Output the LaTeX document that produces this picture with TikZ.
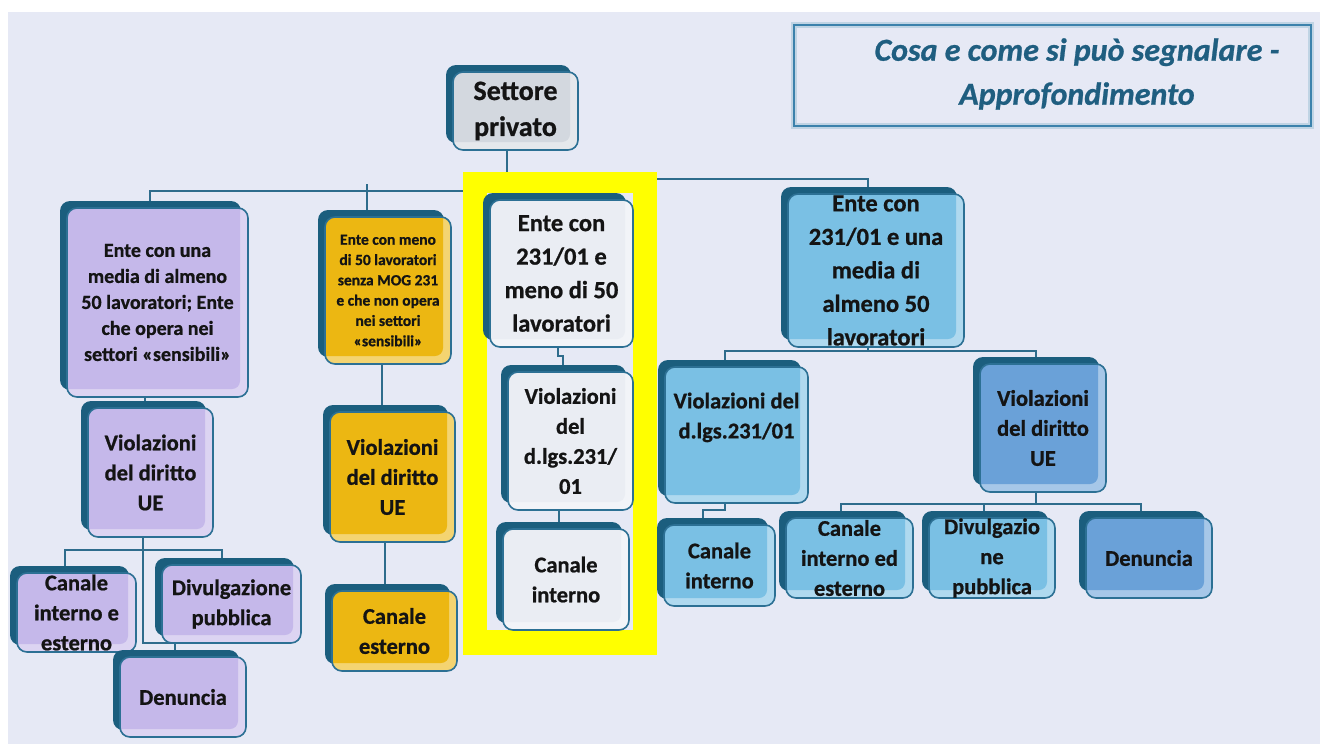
\documentclass[tikz,border=0pt]{standalone}
\usepackage{fontspec}
\setmainfont{Carlito}[BoldFeatures={FakeBold=0.8}, BoldItalicFeatures={FakeBold=0.8}]
\usepackage{tikz}
\usetikzlibrary{positioning,shadows,backgrounds}

\definecolor{pagebg}{RGB}{230,233,245}
\definecolor{shadowcol}{RGB}{27,94,126}
\definecolor{edgecol}{RGB}{44,112,148}
\definecolor{linecol}{RGB}{46,108,140}
\definecolor{lilac}{RGB}{197,184,234}
\definecolor{gold}{RGB}{236,183,18}
\definecolor{pale}{RGB}{234,237,243}
\definecolor{greybox}{RGB}{211,216,223}
\definecolor{sky}{RGB}{122,192,228}
\definecolor{midblue}{RGB}{106,161,216}
\definecolor{titlecol}{RGB}{31,94,128}
\definecolor{framecol}{RGB}{60,130,172}
\definecolor{hilite}{RGB}{255,255,0}
\definecolor{ink}{RGB}{20,20,20}

\begin{document}
\begin{tikzpicture}[x=1pt, y=-1pt,
				boxnode/.style={rectangle, rounded corners=10pt, draw=edgecol, line width=1.6pt, inner sep=0pt, align=center, text=ink,
					copy shadow={shadow xshift=-7pt, shadow yshift=7pt, fill=shadowcol, draw=none}},
				fillbox/.style={boxnode, fill=#1!60!white,
					path picture={\fill[#1, rounded corners=8pt] ([shift={(-6pt,6pt)}]path picture bounding box.north west) rectangle ([shift={(-8pt,8pt)}]path picture bounding box.south east);}},
				fsett/.style={font=\fontsize{28}{36}\selectfont\bfseries},
				fbig/.style={font=\fontsize{24.5}{33.5}\selectfont\bfseries},
				fmid/.style={font=\fontsize{22.5}{30}\selectfont\bfseries},
				fsmall/.style={font=\fontsize{20}{26}\selectfont\bfseries},
				ftiny/.style={font=\fontsize{15.5}{20.3}\selectfont\bfseries},
				conn/.style={draw=linecol, line width=2pt},
			]
			\useasboundingbox (0,0) rectangle (1320,744);
			%Title
			\draw[framecol!45, line width=6pt, opacity=0.6] (794,25) rectangle (1311,126);
			\draw[framecol, line width=2.2pt] (794,25) rectangle (1311,126);
			\node[font=\fontsize{32}{44}\selectfont\bfseries\itshape, text=titlecol, align=center] (titel) at (1077,74) {Cosa e come si può segnalare -\\Approfondimento};

			%Nodes
			\node[fillbox=greybox, fsett, minimum width=125pt, minimum height=78pt]  (settore) at (515.5,111)   {Settore\\privato};

			\node[fillbox=lilac, fsmall, minimum width=181pt, minimum height=189pt]  (enteA)   at (157.5,302.5) {Ente con una\\media di almeno\\50 lavoratori; Ente\\che opera nei\\settori «sensibili»};
			\node[fillbox=lilac, fmid, minimum width=125pt, minimum height=129pt]    (violA)   at (150.5,472.5) {Violazioni\\del diritto\\UE};
			\node[fillbox=lilac, fmid, minimum width=119pt, minimum height=79pt]     (canaleA) at (76.5,612.5)  {Canale\\interno e\\esterno};
			\node[fillbox=lilac, fmid, minimum width=139pt, minimum height=78pt]     (divA)    at (231.5,604)   {Divulgazione\\pubblica};
			\node[fillbox=lilac, fmid, minimum width=126pt, minimum height=80pt]     (denA)    at (183,697)     {Denuncia};

			\node[fillbox=gold, ftiny, minimum width=126pt, minimum height=147pt]    (enteB)   at (388,290.5)   {Ente con meno\\di 50 lavoratori\\senza MOG 231\\e che non opera\\nei settori\\«sensibili»};
			\node[fillbox=gold, fmid, minimum width=125pt, minimum height=130pt]     (violB)   at (392.5,477)   {Violazioni\\del diritto\\UE};
			\node[fillbox=gold, fmid, minimum width=125pt, minimum height=80pt]      (canaleB) at (394.5,631)   {Canale\\esterno};

			\node[fillbox=pale, fbig, minimum width=143pt, minimum height=147pt]     (enteC)   at (561.5,273.5) {Ente con\\231/01 e\\meno di 50\\lavoratori};
			\node[fillbox=pale, fmid, minimum width=125pt, minimum height=138pt]     (violC)   at (570.5,441)   {Violazioni\\del\\d.lgs.231/\\01};
			\node[fillbox=pale, fmid, minimum width=126pt, minimum height=101pt]     (canaleC) at (566,579.5)   {Canale\\interno};

			\node[fillbox=sky, fbig, minimum width=176pt, minimum height=153pt]      (enteD)   at (876,270.5)   {Ente con\\231/01 e una\\media di\\almeno 50\\lavoratori};
			\node[fillbox=sky, fmid, minimum width=143pt, minimum height=136pt]      (violD)   at (736.5,435)   {Violazioni del\\d.lgs.231/01\\\strut};
			\node[fillbox=midblue, fmid, minimum width=126pt, minimum height=128pt]  (ueD)     at (1043,428)    {Violazioni\\del diritto\\UE};
			\node[fillbox=sky, fmid, minimum width=111pt, minimum height=81pt]       (canaleD) at (719.5,565.5) {Canale\\interno};
			\node[fillbox=sky, fmid, minimum width=127pt, minimum height=80pt]       (canieD)  at (849.5,558)   {Canale\\interno ed\\esterno};
			\node[fillbox=sky, fmid, minimum width=126pt, minimum height=80pt]       (divD)    at (992,558)     {Divulgazio\\ne\\pubblica};
			\node[fillbox=midblue, fmid, minimum width=126pt, minimum height=80pt]   (denD)    at (1149,558)    {Denuncia};

			%Lines
			\begin{scope}[on background layer]
				\fill[white] (0,0) rectangle (1320,744);
				\fill[pagebg] (8,12) rectangle (1320,744);
				\coordinate (hubL) at (507,191);
				\coordinate (hubR) at (507,179);
				\coordinate (jA) at (143,550);
				\coordinate (jD) at (868,351);
				\coordinate (jU) at (1036,504);

				\draw[conn] ([xshift=-8.5pt]settore.south) -- (hubL) -| ([xshift=-7.5pt]enteA.north);
				\draw[conn] (hubR) -| ([xshift=-8pt]enteD.north);
				\draw[conn] ([xshift=-21pt]enteB.north) -- ++(0,-32);

				\draw[conn] ([xshift=-12.5pt]enteA.south) -- ([xshift=-5.5pt]violA.north);
				\draw[conn] ([xshift=-7.5pt]violA.south) -- ++(0,105) -| ([xshift=-8pt]denA.north);
				\draw[conn] ([xshift=-11.5pt]canaleA.north) |- (jA) -| ([xshift=-9.5pt]divA.north);

				\draw[conn] ([xshift=-6pt]enteB.south) -- ([xshift=-10.5pt]violB.north);
				\draw[conn] ([xshift=-7.5pt]violB.south) -- ([xshift=-9.5pt]canaleB.north);

				\draw[conn] ([xshift=-8pt]enteD.south) -- (jD);
				\draw[conn] ([xshift=-11.5pt]violD.north) |- (jD) -| ([xshift=-7pt]ueD.north);
				\draw[conn] ([xshift=-11.5pt]violD.south) -- ++(0,6) -| ([xshift=-16.5pt]canaleD.north);
				\draw[conn] ([xshift=-7pt]ueD.south) -- (jU);
				\draw[conn] ([xshift=-8.5pt]canieD.north) |- (jU) -| ([xshift=-8pt]denD.north);
				\draw[conn] ([xshift=-8pt]divD.north) -- ++(0,-14);

				%highlight
				\fill[hilite] (463,172) rectangle (657,655);
				\fill[pagebg] (487,193) rectangle (633,630);
				\draw[conn] ([xshift=-4pt]enteC.south) -- ++(0,8) -- ++(5,0) -- ([xshift=-8pt]violC.north);
				\draw[conn] ([xshift=-11.5pt]violC.south) -- ([xshift=-7pt]canaleC.north);
			\end{scope}
		\end{tikzpicture}
\end{document}
